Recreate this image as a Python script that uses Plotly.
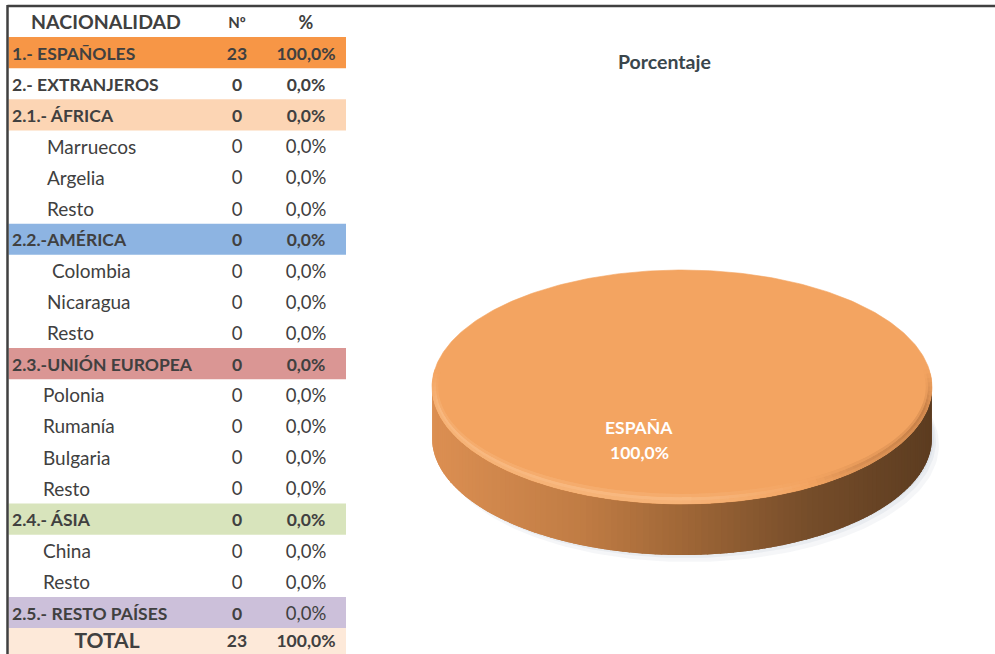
import numpy as np
import plotly.graph_objects as go

# ---------------- data ----------------
header = ["NACIONALIDAD", "Nº", "%"]
row_names = ["1.- ESPAÑOLES", "2.- EXTRANJEROS", "2.1.- ÁFRICA", "Marruecos", "Argelia", "Resto",
             "2.2.-AMÉRICA", "Colombia", "Nicaragua", "Resto", "2.3.-UNIÓN EUROPEA", "Polonia",
             "Rumanía", "Bulgaria", "Resto", "2.4.- ÁSIA", "China", "Resto", "2.5.- RESTO PAÍSES", "TOTAL"]
row_counts = [23, 0, 0, 0, 0, 0, 0, 0, 0, 0, 0, 0, 0, 0, 0, 0, 0, 0, 0, 23]
row_pcts = [100.0, 0.0, 0.0, 0.0, 0.0, 0.0, 0.0, 0.0, 0.0, 0.0, 0.0, 0.0, 0.0, 0.0, 0.0, 0.0, 0.0, 0.0, 0.0, 100.0]

pie_labels = ["ESPAÑA", "EXTRANJEROS"]
pie_values = [23, 0]
chart_title = "Porcentaje"

# ---------------- styles ----------------
row_kind = ["cat", "cat", "cat", "sub", "sub", "sub", "cat", "sub", "sub", "sub", "cat", "sub",
            "sub", "sub", "sub", "cat", "sub", "sub", "cat", "total"]
row_fill = ["#F79646", None, "#FCD5B4", None, None, None, "#8DB4E2", None, None, None, "#DA9694", None,
            None, None, None, "#D8E4BC", None, None, "#CCC0DA", "#FDE9D9"]
name_x = [12, 12, 12, 47, 47, 47, 12, 52, 47, 47, 12, 43, 43, 43, 43, 12, 43, 43, 12, 107]
pct_bold = [True, True, True, False, False, False, True, False, False, False, True, False,
            False, False, False, True, False, False, False, True]

TXT = "#404040"
FONT = "Lato"
ROW_H = 31.1
TOP = 6
W, H = 995, 654
COL_N_X = 237
COL_P_X = 306
HEAD_X = 106
FILL_L, FILL_R = 8.5, 346
TXT_DY = 0.09   # small downward nudge of text inside a row (row units)
TOTAL_DY = -0.03

fig = go.Figure()

# ---------- table (rows on yaxis2, row index units) ----------
rows = list(range(1, len(row_names) + 1))
text_rows = [r + (TOTAL_DY if k == "total" else TXT_DY) for r, k in zip(rows, row_kind)]
fills = [c if c else "rgba(0,0,0,0)" for c in row_fill]
fig.add_trace(go.Bar(orientation="h", y=rows, x=[FILL_R - FILL_L] * len(rows), base=FILL_L,
                     width=1.0, marker=dict(color=fills, line=dict(width=0)),
                     xaxis="x", yaxis="y2", hoverinfo="skip", showlegend=False))

def b(s, bold):
    return f"<b>{s}</b>" if bold else s

name_txt = [b(n, k != "sub") for n, k in zip(row_names, row_kind)]
name_pos = ["middle center" if k == "total" else "middle right" for k in row_kind]
name_size = [21 if k == "total" else (17.5 if k == "cat" else 19) for k in row_kind]
fig.add_trace(go.Scatter(x=name_x, y=text_rows, mode="text", text=name_txt, textposition=name_pos,
                         textfont=dict(family=FONT, size=name_size, color=TXT),
                         xaxis="x", yaxis="y2", hoverinfo="skip", showlegend=False))

cnt_txt = [b(str(c), k != "sub") for c, k in zip(row_counts, row_kind)]
cnt_size = [17.5 if k != "sub" else 18.5 for k in row_kind]
fig.add_trace(go.Scatter(x=[COL_N_X] * len(rows), y=text_rows, mode="text", text=cnt_txt,
                         textposition="middle center",
                         textfont=dict(family=FONT, size=cnt_size, color=TXT),
                         xaxis="x", yaxis="y2", hoverinfo="skip", showlegend=False))

pct_txt = [b(f"{p:.1f}".replace(".", ",") + "%", bb) for p, bb in zip(row_pcts, pct_bold)]
pct_size = [17.5 if bb else 18.5 for bb in pct_bold]
fig.add_trace(go.Scatter(x=[COL_P_X] * len(rows), y=text_rows, mode="text", text=pct_txt,
                         textposition="middle center",
                         textfont=dict(family=FONT, size=pct_size, color=TXT),
                         xaxis="x", yaxis="y2", hoverinfo="skip", showlegend=False))

fig.add_trace(go.Scatter(x=[HEAD_X, COL_N_X, COL_P_X], y=[TXT_DY] * 3, mode="text",
                         text=[f"<b>{h}</b>" for h in header], textposition="middle center",
                         textfont=dict(family=FONT, size=[19.5, 15, 18], color=TXT),
                         xaxis="x", yaxis="y2", hoverinfo="skip", showlegend=False))

# ---------- 3D pie (pixel-unit axes x/y) ----------
cx, cy, A, B, T = 682, 387, 250, 117, 51
RING_DA, RING_DB = 6, 10
TOP_RGB = (243, 164, 97)
LIGHT_RGB = (250, 194, 142)
DARK_RGB = (176, 110, 60)

def ex(t, da=0.0):
    return cx + (A - da) * np.sin(t)

def ey(t, db=0.0):
    return cy - (B - db) * np.cos(t)

def rgb(c):
    return f"rgb({int(round(c[0]))},{int(round(c[1]))},{int(round(c[2]))})"

def mix(c1, c2, w):
    return tuple(a + (b_ - a) * w for a, b_ in zip(c1, c2))

# soft shadow
for dx, dy, op in [(7, 11, 0.16), (4, 7, 0.22), (2, 4, 0.28)]:
    tt = np.linspace(0, 2 * np.pi, 200)
    fig.add_trace(go.Scatter(x=ex(tt) + dx, y=ey(tt) + T + dy - 4, mode="lines", fill="toself",
                             fillcolor=f"rgba(190,200,214,{op})", line=dict(width=0),
                             hoverinfo="skip", showlegend=False))

stops_u = [0.0, 0.3, 0.5, 0.75, 1.0]
stops_c = [(220, 143, 82), (192, 124, 68), (160, 103, 55), (118, 77, 42), (92, 60, 32)]

def side_col(u):
    return tuple(np.interp(u, stops_u, [c[i] for c in stops_c]) for i in range(3))

def rim_shade(u):
    # >0 highlight, <0 shadow
    return float(np.interp(u, [0.0, 0.5, 0.7, 0.85, 1.0], [0.9, 0.9, 0.3, -0.5, -0.9]))

total = sum(pie_values)
start = 0.0
label_items = []
for lab, v in zip(pie_labels, pie_values):
    frac = v / total
    if frac <= 0:
        continue
    t0, t1 = start, start + 2 * np.pi * frac
    start = t1
    # side (front half only)
    a, c = max(t0, np.pi / 2), min(t1, 3 * np.pi / 2)
    if c > a:
        edges = np.linspace(a, c, 121)
        step = edges[1] - edges[0]
        for s0 in edges[:-1]:
            s1 = min(s0 + 2.2 * step, c)
            ts = np.linspace(s0, s1, 4)
            xs = np.concatenate([ex(ts), ex(ts[::-1])])
            ys = np.concatenate([ey(ts), ey(ts[::-1]) + T])
            u = (ex(s0 + step / 2) - (cx - A)) / (2 * A)
            fig.add_trace(go.Scatter(x=xs, y=ys, mode="lines", fill="toself",
                                     fillcolor=rgb(side_col(u)), line=dict(width=0),
                                     hoverinfo="skip", showlegend=False))
    # top face
    ts = np.linspace(t0, t1, 400)
    xs, ys = ex(ts), ey(ts)
    if frac < 1:
        xs = np.concatenate([[cx], xs, [cx]])
        ys = np.concatenate([[cy], ys, [cy]])
    fig.add_trace(go.Scatter(x=xs, y=ys, mode="lines", fill="toself", fillcolor=rgb(TOP_RGB),
                             line=dict(width=0.6, color=rgb(TOP_RGB)), hoverinfo="skip",
                             showlegend=False))
    # bevel ring on the visible front rim
    ra, rc = max(t0, np.pi * 0.45), min(t1, np.pi * 1.55)
    if rc > ra:
        redges = np.linspace(ra, rc, 91)
        rstep = redges[1] - redges[0]
        bands = [(0.0, 0.34, 0.55), (0.34, 0.68, 0.75), (0.68, 1.0, 0.3)]
        for s0 in redges[:-1]:
            s1 = min(s0 + 2.2 * rstep, rc)
            tm = s0 + rstep / 2
            u = (ex(tm) - (cx - A)) / (2 * A)
            h = rim_shade(u)
            # fade the ring toward its ends (back of the pie)
            fade = min(1.0, (tm - np.pi * 0.45) / 0.35, (np.pi * 1.55 - tm) / 0.35)
            ts = np.linspace(s0, s1, 4)
            for f0, f1, wgt in bands:
                w = abs(h) * wgt * fade
                col = mix(TOP_RGB, LIGHT_RGB if h > 0 else DARK_RGB, w)
                xs = np.concatenate([ex(ts, RING_DA * f0), ex(ts[::-1], RING_DA * f1)])
                ys = np.concatenate([ey(ts, RING_DB * f0), ey(ts[::-1], RING_DB * f1)])
                fig.add_trace(go.Scatter(x=xs, y=ys, mode="lines", fill="toself",
                                         fillcolor=rgb(col), line=dict(width=0),
                                         hoverinfo="skip", showlegend=False))
    label_items.append((lab, frac))

annotations = []
for lab, frac in label_items:
    pct = f"{frac * 100:.1f}".replace(".", ",") + "%"
    annotations.append(dict(x=cx - 43, y=cy + 40, xref="x", yref="y", text=f"<b>{lab}</b>",
                            showarrow=False, font=dict(family=FONT, size=17.5, color="white")))
    annotations.append(dict(x=cx - 43, y=cy + 65, xref="x", yref="y", text=f"<b>{pct}</b>",
                            showarrow=False, font=dict(family=FONT, size=17.5, color="white")))

annotations.append(dict(x=664, y=61, xref="x", yref="y", text=f"<b>{chart_title}</b>",
                        showarrow=False, font=dict(family=FONT, size=19.5, color="#3A464C")))

shapes = [
    dict(type="line", xref="x", yref="y", x0=7.5, x1=W, y0=TOP, y1=TOP,
         line=dict(color="#404040", width=2.5)),
    dict(type="line", xref="x", yref="y", x0=7.5, x1=7.5, y0=TOP - 1, y1=H,
         line=dict(color="#404040", width=2.5)),
]

n_vis = (H - TOP) / ROW_H
fig.update_layout(
    width=W, height=H, margin=dict(l=0, r=0, t=0, b=0),
    paper_bgcolor="white", plot_bgcolor="rgba(0,0,0,0)",
    xaxis=dict(domain=[0, 1], range=[0, W], visible=False, fixedrange=True),
    yaxis=dict(domain=[0, 1], range=[H, 0], visible=False, fixedrange=True),
    yaxis2=dict(domain=[0, 1 - TOP / H], range=[-0.5 + n_vis, -0.5], visible=False,
                fixedrange=True, anchor="x"),
    barmode="overlay", showlegend=False,
    annotations=annotations, shapes=shapes,
)

fig.write_html("out.html", config={"displayModeBar": False},
               post_script="document.body.style.margin='0';document.body.style.overflow='hidden';")
